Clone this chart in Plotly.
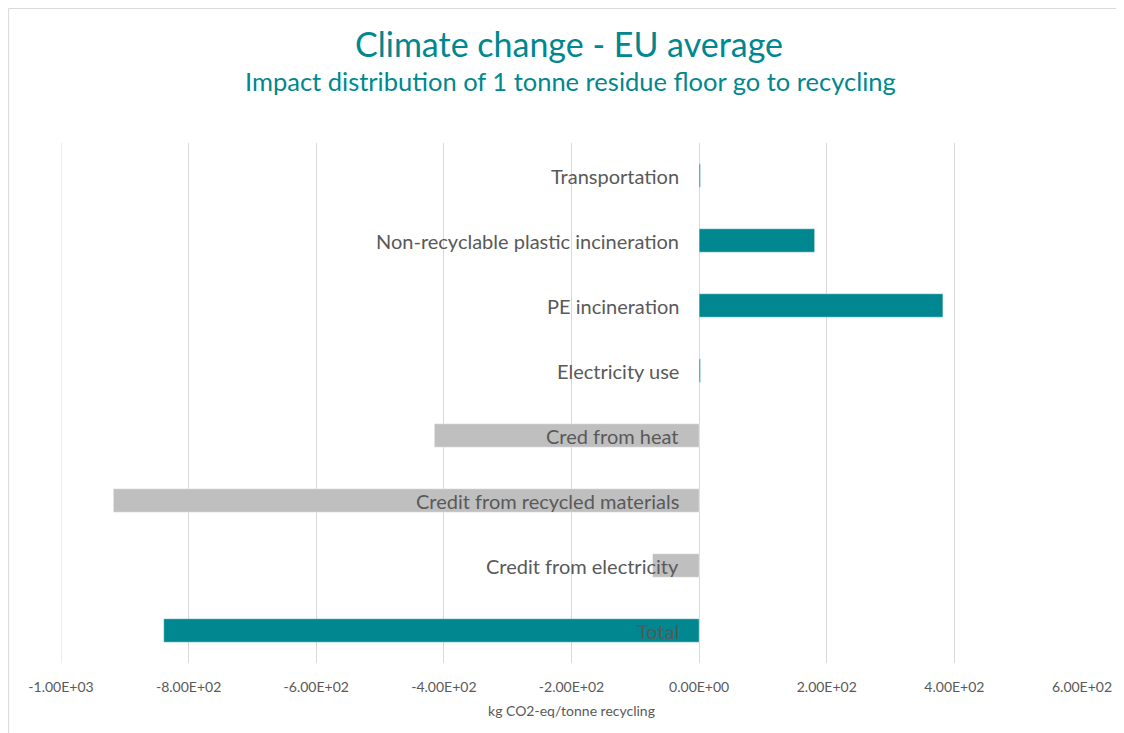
import plotly.graph_objects as go

categories = ["Transportation", "Non-recyclable plastic incineration", "PE incineration",
              "Electricity use", "Cred from heat", "Credit from recycled materials",
              "Credit from electricity", "Total"]
values = [2, 181, 382, 2, -415, -918, -73, -839]
bar_colors = ["#00878F", "#00878F", "#00878F", "#00878F",
              "#BFBFBF", "#BFBFBF", "#BFBFBF", "#00878F"]
tick_vals = [-1000, -800, -600, -400, -200, 0, 200, 400, 600]
tick_text = ["-1.00E+03", "-8.00E+02", "-6.00E+02", "-4.00E+02", "-2.00E+02",
             "0.00E+00", "2.00E+02", "4.00E+02", "6.00E+02"]

TEAL = "#00878F"
GREY_TXT = "#595959"
GRID = "#D9D9D9"
FONT = "Lato"

fig = go.Figure()
fig.add_trace(go.Bar(y=categories, x=values, orientation="h",
                     marker=dict(color=bar_colors, line=dict(color="rgba(255,255,255,0.4)", width=1)),
                     showlegend=False, hoverinfo="x+y"))

# category labels sit just left of the zero line, as in the original
for cat in categories:
    fig.add_annotation(x=0, y=cat, xref="x", yref="y", text=cat, showarrow=False,
                       xanchor="right", xshift=-18,
                       font=dict(family=FONT, size=20, color=GREY_TXT))

fig.add_annotation(x=0.4976, y=1.1923, xref="paper", yref="paper", showarrow=False,
                   text="Climate change - EU average", yanchor="middle",
                   font=dict(family=FONT, size=34, color=TEAL))
fig.add_annotation(x=0.4986, y=1.119, xref="paper", yref="paper", showarrow=False,
                   text="Impact distribution of 1 tonne residue floor go to recycling",
                   yanchor="middle", font=dict(family=FONT, size=25.5, color=TEAL))

# outer chart frame
fig.add_shape(type="rect", xref="paper", yref="paper", x0=-0.0513, x1=1.2, y0=-0.3, y1=1.2587,
              line=dict(color=GRID, width=1), layer="below")
# plotly drops the gridline on the left edge, draw it by hand
fig.add_vline(x=tick_vals[0], line=dict(color=GRID, width=1), layer="below")

# page body has an 8px margin, so the figure is a bit smaller than the window
fig.update_layout(
    width=1116, height=725,
    paper_bgcolor="white", plot_bgcolor="white",
    margin=dict(l=53, r=40, t=135, b=70),
    bargap=0.64,
    font=dict(family=FONT, color=GREY_TXT),
)
fig.update_xaxes(range=[-1000, 600], tickvals=tick_vals, ticktext=tick_text,
                 showgrid=True, gridcolor=GRID, gridwidth=1,
                 zeroline=False, showline=False, ticks="", ticklabelstandoff=14,
                 tickfont=dict(family=FONT, size=14, color=GREY_TXT),
                 title=dict(text="kg CO2-eq/tonne recycling", standoff=12,
                            font=dict(family=FONT, size=14, color=GREY_TXT)))
fig.update_yaxes(autorange="reversed", showticklabels=False, showgrid=False,
                 zeroline=False, showline=False, ticks="")

fig.write_html("out.html")
